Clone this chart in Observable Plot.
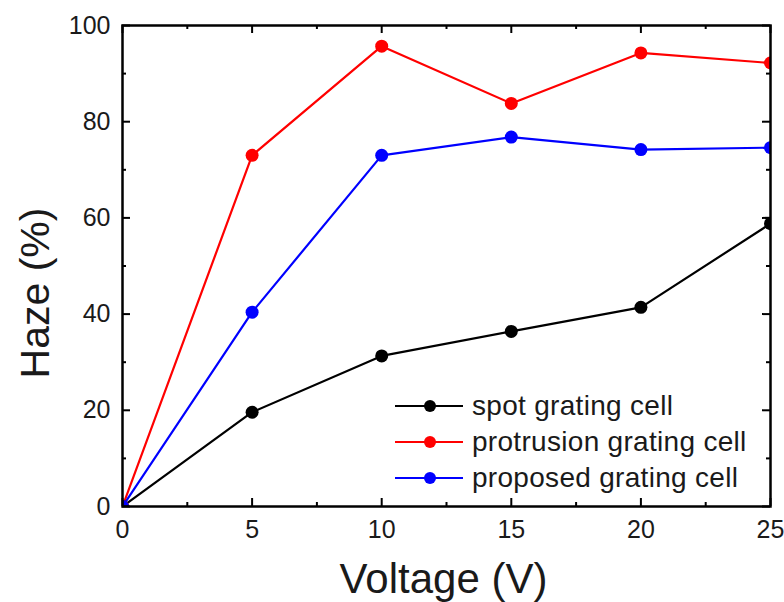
<!DOCTYPE html>
<html>
<head>
<meta charset="utf-8">
<script src="https://cdn.jsdelivr.net/npm/d3@7"></script>
<script src="https://cdn.jsdelivr.net/npm/@observablehq/plot@0.6"></script>
<style>
  html, body { margin: 0; padding: 0; background: #fff; }
  #wrap { position: relative; width: 784px; height: 602px; font-family: "Liberation Sans", Arial, sans-serif; }
  #legend { position: absolute; left: 395px; top: 388px; font-size: 28px; letter-spacing: 0.3px; color: #1a1a1a; }
  .row { display: flex; align-items: center; height: 36px; }
  .row svg { margin-right: 9px; }
</style>
</head>
<body>
<div id="wrap"></div>
<script>
const voltage = [0, 5, 10, 15, 20, 25];
const spot = [0, 19.6, 31.3, 36.4, 41.4, 58.8];
const protrusion = [0, 73.0, 95.7, 83.8, 94.3, 92.2];
const proposed = [0, 40.4, 73.0, 76.8, 74.2, 74.6];
const spotErr = [0, 0, 0, 0, 0, 1.2];
const seriesNames = ["spot grating cell", "protrusion grating cell", "proposed grating cell"];
const seriesColors = ["#000000", "#ff0000", "#0000ff"];
const xMajor = [0, 5, 10, 15, 20, 25];
const xMinor = [2.5, 7.5, 12.5, 17.5, 22.5];
const yMajor = [0, 20, 40, 60, 80, 100];
const yMinor = [10, 30, 50, 70, 90];
const xDomain = [0, 25];
const yDomain = [0, 100];

const seriesValues = [spot, protrusion, proposed];
const rows = [];
seriesValues.forEach((vals, i) => vals.forEach((v, j) => rows.push({series: seriesNames[i], x: voltage[j], y: v})));
const errRows = voltage.map((v, j) => ({x: v, y: spot[j], e: spotErr[j]})).filter(d => d.e > 0);

const colorScale = {domain: seriesNames, range: seriesColors};
const tk = {stroke: "#000", strokeWidth: 2};

const chart = Plot.plot({
  width: 784,
  height: 602,
  marginLeft: 122,
  marginRight: 14,
  marginTop: 25,
  marginBottom: 96,
  style: {fontFamily: "Liberation Sans, Arial, sans-serif", color: "#1a1a1a", background: "white"},
  x: {type: "linear", domain: xDomain},
  y: {type: "linear", domain: yDomain},
  color: colorScale,
  marks: [
    Plot.line(rows, {x: "x", y: "y", z: "series", stroke: "series", strokeWidth: 2.2, clip: "frame"}),
    Plot.ruleX(errRows, {x: "x", y1: d => d.y - d.e, y2: d => d.y + d.e, stroke: "#000", strokeWidth: 2, clip: "frame"}),
    Plot.ruleY(errRows, {y: d => d.y + d.e, x1: "x", x2: "x", insetLeft: -5, insetRight: -5, stroke: "#000", strokeWidth: 2, clip: "frame"}),
    Plot.dot(rows, {x: "x", y: "y", fill: "series", r: 6.5, clip: "frame"}),
    // inward ticks: bottom & top
    Plot.ruleX(xMajor, {x: d => d, y1: yDomain[0], y2: yDomain[0], insetTop: -8, ...tk}),
    Plot.ruleX(xMinor, {x: d => d, y1: yDomain[0], y2: yDomain[0], insetTop: -4, ...tk}),
    Plot.ruleX(xMajor, {x: d => d, y1: yDomain[1], y2: yDomain[1], insetBottom: -8, ...tk}),
    Plot.ruleX(xMinor, {x: d => d, y1: yDomain[1], y2: yDomain[1], insetBottom: -4, ...tk}),
    // inward ticks: left & right
    Plot.ruleY(yMajor, {y: d => d, x1: xDomain[0], x2: xDomain[0], insetRight: -8, ...tk}),
    Plot.ruleY(yMinor, {y: d => d, x1: xDomain[0], x2: xDomain[0], insetRight: -4, ...tk}),
    Plot.ruleY(yMajor, {y: d => d, x1: xDomain[1], x2: xDomain[1], insetLeft: -8, ...tk}),
    Plot.ruleY(yMinor, {y: d => d, x1: xDomain[1], x2: xDomain[1], insetLeft: -4, ...tk}),
    // tick labels
    Plot.axisX(xMajor, {anchor: "bottom", tickSize: 0, tickPadding: 14, fontSize: 25, label: null}),
    Plot.axisY(yMajor, {anchor: "left", tickSize: 0, tickPadding: 12, fontSize: 25, label: null}),
    // titles
    Plot.text(["Voltage (V)"], {frameAnchor: "bottom", textAnchor: "middle", lineAnchor: "bottom", dy: 86, dx: -3, fontSize: 42, fill: "#1a1a1a"}),
    Plot.text(["Haze (%)"], {frameAnchor: "left", textAnchor: "middle", lineAnchor: "middle", dx: -87, dy: 27, rotate: -90, fontSize: 41, fill: "#1a1a1a"}),
    Plot.frame({stroke: "#000", strokeWidth: 2.5})
  ]
});

const wrap = document.getElementById("wrap");
wrap.appendChild(chart);

const legend = document.createElement("div");
legend.id = "legend";
seriesNames.forEach((name, i) => {
  const row = document.createElement("div");
  row.className = "row";
  const c = seriesColors[i];
  row.innerHTML = `<svg width="68" height="16"><line x1="0" y1="8" x2="68" y2="8" stroke="${c}" stroke-width="2.2"/><circle cx="35" cy="8" r="6" fill="${c}"/></svg><span>${name}</span>`;
  legend.appendChild(row);
});
wrap.appendChild(legend);
</script>
</body>
</html>
